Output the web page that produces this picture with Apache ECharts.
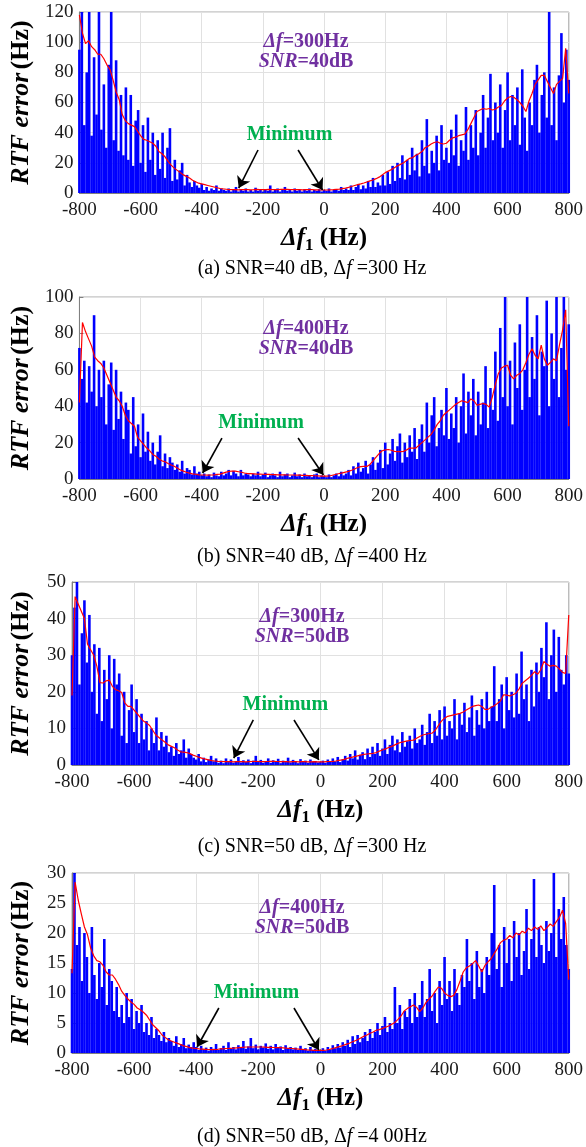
<!DOCTYPE html>
<html>
<head>
<meta charset="utf-8">
<script src="https://cdn.jsdelivr.net/npm/echarts@6/dist/echarts.min.js"></script>
<style>
  html, body { margin: 0; padding: 0; background: #ffffff; }
  #chart { width: 586px; height: 1147px; }
</style>
</head>
<body>
<div id="chart"></div>
<script>
// Frequency grid: bars every 8 Hz, smoothed curve every 10 Hz, both from -800 Hz
const X_START = -800;
const BAR_STEP = 8;
const CURVE_STEP = 10;

// ---- (a) SNR=40 dB, Δf=300 Hz ----
const barsA = [
  95,120,45,80,120,38,90,52,120,42,
  72,30,85,120,35,88,28,65,25,70,
  22,65,18,48,55,20,45,14,50,22,
  40,12,35,16,40,10,30,43,8,22,
  9,15,20,5,12,7,4,8,5,3.5,
  6,2,4,1.5,3,2,5,1.5,3,2,
  1.5,3,1,2,4,1,2.5,1.5,3,1,
  2,1,3.5,1.5,2,1,2.5,1.5,5,1,
  2,3,1,2,4,1.5,2,1,3,1.5,
  2,1,2.5,1.5,3,1,2,1.5,2.5,1,
  2,1.5,3,1,2,2.5,1.5,4,2,3,
  2,5,2,4,6,2.5,5,3,8,4,
  10,4,7,5,12,5,14,6,18,8,
  20,10,25,9,22,12,30,15,26,11,
  35,18,49,13,28,20,38,15,45,22,
  30,20,42,25,52,18,35,28,57,22,
  45,30,55,25,40,65,30,50,79,35,
  60,40,72,30,55,80,35,65,45,70,
  32,82,50,28,60,45,75,85,40,65,
  80,50,120,45,70,35,78,106,60,95,
  75
];
const curveA = [
  118,106,99,101,97,95,92,92,89,85,
  82,75,67,62,52,48,46,45,44,41,
  38,35.5,35,34,33,31,27.5,26,24,21,
  18.5,16.5,15,13.5,12,11,10,8.5,7.5,6.5,
  6,5.5,5,4.5,4,3.5,3,2.7,2.5,2.3,
  2.2,2.2,2.1,2.2,2.3,2.2,2.1,2.2,2.4,2.3,
  2.2,2.3,2.4,2.3,2.2,2.3,2.4,2.5,2.4,2.3,
  2.2,2.3,2.2,2.1,2.2,2.3,2.2,2.1,2.1,2.0,
  2.0,2.0,2.1,2.2,2.4,2.6,2.9,3.2,3.7,4.3,
  5.0,5.5,6.0,6.6,7.3,8.0,8.6,9.5,10.5,12.0,
  13.5,14.5,15.5,16.8,18.0,19.0,20.0,21.5,23.0,23.5,
  25,26,27.5,30,31,32.5,33.5,34,33,32.5,
  33,35,36.5,37,38,38.5,39,42,46,50,
  54,55,56,55.5,56,55,55.5,57,58,61,
  63,64,63.5,62,60,57.5,54,61,66,72,
  75,78,78,74,70,66,72,74,76,96,
  66
];

// ---- (b) SNR=40 dB, Δf=400 Hz ----
const barsB = [
  72,55,65,42,62,48,90,40,60,45,
  65,30,52,64,27,60,33,48,22,42,
  38,14,45,18,30,12,36,15,26,10,
  20,8,15,24,7,14,6,12,9,5,
  8,4,10,3,6,5,2.5,7,3,4,
  2,3,1.5,2.5,1,3.5,2,1.5,4,2,
  3,5,2,4.5,3,1.5,5,2,3,2.5,
  1.5,3,2,4,1.5,2.5,3.5,1,2,3,
  2,1,4,1.5,2.5,3,1,2,3.5,1.5,
  2.5,1,3,1.5,2,1,2.5,3,1,2,
  1.5,1,2.5,1,2,3,1.5,4,2,3,
  5,2,7,3,9,4,6,10,3,8,
  12,5,9,16,6,20,8,14,22,10,
  18,25,9,20,12,24,15,28,11,22,
  30,15,42,20,35,45,18,28,38,24,
  50,22,36,28,45,20,40,58,25,48,
  35,55,24,48,30,42,62,28,50,38,
  70,32,83,45,100,40,65,30,75,50,
  85,38,60,100,45,78,55,90,35,70,
  62,98,40,80,55,100,45,72,100,60,
  85
];
const curveB = [
  42,86,81,77,73,67,65,63.5,61,57,
  53,49,45,43,40,35,32,30.5,29,23,
  21,19,17,15.5,13.5,12.5,11,10,9.5,8.5,
  7.7,7,6,5,4.3,3.7,3.2,2.8,2.6,2.3,
  2.2,2.2,2.1,2.2,2.2,2.5,2.7,3.2,3.8,4.2,
  4.4,4.3,4.0,3.7,3.3,3.0,2.9,2.8,2.7,2.7,
  2.6,2.5,2.5,2.4,2.4,2.3,2.3,2.3,2.2,2.2,
  2.2,2.1,2.1,2.0,2.0,1.9,1.9,1.8,1.7,1.6,
  1.6,1.6,1.8,2.2,2.6,3.0,3.4,3.8,4.2,4.8,
  5.5,6.3,6.8,6.9,6.9,8.0,10,12,14,15.5,
  16,16.2,15.8,15.2,15,15,15.2,16,17,17,
  17,18.5,20,21.5,23,24.5,27,30,32,35,
  36.5,38,39.5,41,42,43,42.5,42,44,43,
  40.5,41,41.5,41,39.5,45,52,58,61,62,
  62.5,57,55,57,58,60,64,68.5,71.5,68,
  66,73.5,66,62.5,64,66,65,74,82,93,
  29
];

// ---- (c) SNR=50 dB, Δf=300 Hz ----
const barsC = [
  30,43,50,22,36,45,28,41,20,33,
  14,32,12,26,18,30,10,29,22,25,
  8,20,6,15,22,9,18,6,14,7,
  12,4,10,6,13,4,9,5,8,3.5,
  5,2.5,6,3,4,7,2,4.5,3,2,
  1.5,3,1,2,0.8,1.5,2.5,1,1.8,0.6,
  1.2,0.5,1.8,0.8,1.5,0.6,1,2.2,0.7,1.3,
  0.8,1.5,0.5,1.2,2.5,0.8,1.4,0.6,1.1,1.8,
  0.6,1.3,0.9,1.7,0.5,1.2,0.8,2,0.7,1.4,
  1,0.5,1.6,0.8,1.2,0.6,1.5,0.9,1.1,0.7,
  0.8,1.2,0.6,1.5,0.9,1.8,1,2.2,0.8,1.6,
  2.5,1.2,3,1.8,4,1.5,2.8,3.5,1.6,4.5,
  2.2,5,3,6,2.5,4.5,7,3,5.5,8,
  4,7,3.5,9,5,6.5,8,4.5,10,6,
  7,11,5.5,9,14,6,12,8,15,7,
  16,8,12,10,18,7,14,11,17,9,
  13,19,8,15,11,18,10,20,12,16,
  27,12,18,22,10,24,15,20,13,25,
  14,31,18,22,12,26,16,28,20,32,
  24,39,18,30,37,20,35,26,22,30,
  25
];
const curveC = [
  19,46,44,42,40,33,31.5,30,27,22.5,
  22.4,23,23.2,21.5,20.6,20.3,19.8,17,16,16,
  15,14,13,12,11.5,10.8,9.5,8.2,7.5,6.8,
  6.2,5.5,5.1,4.7,4.1,3.6,3.5,3.4,3.1,2.7,
  2.4,2.1,1.8,1.6,1.4,1.2,1.1,1.0,0.95,0.9,
  0.9,0.9,0.85,0.9,0.95,0.9,0.85,0.9,0.95,1.0,
  0.95,0.9,0.9,0.95,1.0,1.0,0.95,0.9,0.95,0.9,
  0.85,0.9,0.9,0.85,0.9,0.9,0.85,0.85,0.9,0.85,
  0.85,0.85,0.9,0.95,1.0,1.1,1.25,1.4,1.6,1.9,
  2.1,2.3,2.5,2.7,2.9,3.0,3.1,3.2,3.4,3.8,
  4.1,4.4,4.8,5.1,5.5,5.9,6.2,6.4,6.6,6.7,
  6.8,7.3,7.8,8.2,8.4,8.6,8.7,9.5,10.8,12,
  12.8,13.3,13.5,13.7,13.9,14.1,14.5,15,15.5,16,
  16.2,16.4,16,15.2,15.2,15.8,16.2,16.8,17.5,19.2,
  19.1,18.9,19.2,19.6,20.8,22.3,23,23.7,24.5,25.5,
  24.8,26,28.3,27.5,27,27.2,27,26.2,25.3,25,
  41
];

// ---- (d) SNR=50 dB, Δf=400 Hz ----
const barsD = [
  14,30,18,21,12,20,16,10,21,13,
  9,15,11,19,8,14,12,7,11,6,
  8,5,10,6,9,4,7,5,8,3.5,
  5,3,6,2.5,4,3,2,3.5,1.8,2.5,
  2,1.2,2.8,1,1.5,2.5,0.8,1.4,1,1.8,
  1,0.5,1.2,0.6,0.9,0.4,1,0.7,1.5,0.5,
  0.8,1.2,0.5,1.8,0.7,1,0.6,1.3,0.9,2,
  0.7,1.1,2.5,0.8,1.4,0.6,1.2,0.9,1.6,0.7,
  1.2,0.6,1.5,0.9,1.1,0.5,1.3,0.8,1,0.6,
  0.9,0.5,1.2,0.6,0.8,0.4,1,0.5,0.7,0.4,
  0.5,0.8,0.4,1,0.6,1.3,0.8,1.5,0.9,1.8,
  1.2,2.2,1,2.8,1.5,3,1.8,2.5,3.5,2,
  4,2.5,3.5,5,3,4.5,6,3.5,5,4,
  11,5,8,4,7,6,9,5,10,6,
  8,12,6,9,14,7,10,5,12,8,
  16,9,12,7,14,10,8,13,11,19,
  12,15,9,17,11,14,10,16,13,20,
  28,14,18,11,21,15,19,12,22,16,
  20,13,17,24,14,19,29,16,21,18,
  15,22,17,20,30,16,24,19,26,18,
  14
];
const curveD = [
  13.3,28.5,25.5,23.2,21,19.7,17.5,16.2,15.4,15.2,
  14.6,13.5,13,13,12.3,11.4,10.3,9.6,9.0,8.5,
  8.1,7.5,7.2,6.8,6.3,5.5,4.7,4.2,3.7,3.0,
  2.6,2.2,2.0,1.8,1.6,1.4,1.2,1.05,0.9,0.8,
  0.75,0.7,0.66,0.62,0.58,0.55,0.58,0.62,0.7,0.72,
  0.75,0.78,0.8,0.85,0.9,0.95,1.0,1.0,1.0,1.0,
  1.0,1.0,0.98,0.95,0.95,0.92,0.9,0.88,0.85,0.8,
  0.78,0.75,0.7,0.65,0.6,0.55,0.5,0.48,0.45,0.45,
  0.45,0.45,0.5,0.6,0.75,0.9,1.05,1.2,1.4,1.55,
  1.8,2.0,2.2,2.5,2.8,3.0,3.3,3.5,3.8,3.9,
  4.1,4.3,4.5,4.8,5.1,5.6,6.2,7.0,7.4,7.7,
  8.0,7.6,6.9,7.5,8.4,9.0,9.5,10.3,11.0,10.8,
  10.0,9.6,9.4,9.6,10.6,12.0,13.5,14.2,14.5,14.9,
  15.4,14.5,13.5,14.6,15.2,15.7,16.6,17.4,18.4,18.8,
  19.0,19.6,19.2,20.0,19.7,20.3,20.0,20.8,20.4,21.0,
  20.6,21.2,20.4,20.9,21.5,21.1,21.9,22.6,23.8,21.6,
  12.2
];

// Panel descriptions
const panels = [
  { id: 'a', bars: barsA, curve: curveA, yMax: 120, yStep: 20, df: '300', snr: '40',
    caption: '(a) SNR=40 dB, Δ{i|f} =300 Hz' },
  { id: 'b', bars: barsB, curve: curveB, yMax: 100, yStep: 20, df: '400', snr: '40',
    caption: '(b) SNR=40 dB, Δ{i|f} =400 Hz' },
  { id: 'c', bars: barsC, curve: curveC, yMax: 50, yStep: 10, df: '300', snr: '50',
    caption: '(c) SNR=50 dB, Δ{i|f} =300 Hz' },
  { id: 'd', bars: barsD, curve: curveD, yMax: 30, yStep: 5, df: '400', snr: '50',
    caption: '(d) SNR=50 dB, Δ{i|f} =4 00Hz' }
];

// Layout of each panel (pixels) and annotation anchors (data units)
const layout = [
  { top: 12,  height: 181, captionTop: 254,
    note: [-59, 93.5], minText: [-113, 38.5],
    arrows: [[[-216, 28.5], [-279, 3.3]], [[-85, 28.5], [-5, 2.0]]] },
  { top: 297, height: 182, captionTop: 542,
    note: [-59, 77], minText: [-206, 30.8],
    arrows: [[[-334, 22.5], [-397, 3.3]], [[-85, 22.5], [-2, 2.2]]] },
  { top: 582, height: 183, captionTop: 832,
    note: [-59, 37.7], minText: [-113, 16.4],
    arrows: [[[-216, 12.3], [-279, 1.9]], [[-85, 12.3], [-5, 1.4]]] },
  { top: 873, height: 180, captionTop: 1122,
    note: [-59, 22.5], minText: [-206, 10],
    arrows: [[[-327, 7.5], [-397, 1.0]], [[-85, 7.5], [-5, 0.5]]] }
];

const SERIF = '"Liberation Serif", "Times New Roman", serif';
const PURPLE = '#7030a0';
const GREEN = '#00b050';

const toPairs = (vals, step) => vals.map((v, i) => [X_START + i * step, v]);

const grids = [], xAxes = [], yAxes = [], series = [], titles = [];

panels.forEach((p, k) => {
  const L = layout[k];
  grids.push({ left: 69, right: 16, top: L.top, height: L.height,
    show: true, borderColor: '#a6a6a6', borderWidth: 1, backgroundColor: '#ffffff' });

  xAxes.push({
    gridIndex: k, type: 'value', min: -800, max: 800, interval: 200,
    axisLine: { show: true, onZero: false, lineStyle: { color: '#808080' } },
    axisTick: { show: true, inside: true, length: 4, lineStyle: { color: '#808080' } },
    axisLabel: { color: '#1a1a1a', fontFamily: SERIF, fontSize: 19, margin: 8 },
    splitLine: { show: true, lineStyle: { color: '#e1e1e1', width: 1 } },
    name: '{bi|Δf}{sub|1}{b| (Hz)}',
    nameLocation: 'middle', nameGap: 31,
    nameTextStyle: {
      rich: {
        bi: { fontFamily: SERIF, fontSize: 25, fontWeight: 'bold', fontStyle: 'italic', color: '#000', lineHeight: 30 },
        sub: { fontFamily: SERIF, fontSize: 17, fontWeight: 'bold', color: '#000', verticalAlign: 'bottom', lineHeight: 17 },
        b: { fontFamily: SERIF, fontSize: 25, fontWeight: 'bold', color: '#000', lineHeight: 30 }
      }
    }
  });

  yAxes.push({
    gridIndex: k, type: 'value', min: 0, max: p.yMax, interval: p.yStep,
    axisLine: { show: true, onZero: false, lineStyle: { color: '#808080' } },
    axisTick: { show: true, inside: true, length: 4, lineStyle: { color: '#808080' } },
    axisLabel: { color: '#1a1a1a', fontFamily: SERIF, fontSize: 19, margin: 6 },
    splitLine: { show: true, lineStyle: { color: '#e1e1e1', width: 1 } },
    name: '{bi|RTF error} {b|(Hz)}',
    nameLocation: 'middle', nameGap: 38, nameRotate: 90,
    nameTextStyle: {
      rich: {
        bi: { fontFamily: SERIF, fontSize: 26, fontWeight: 'bold', fontStyle: 'italic', color: '#000' },
        b: { fontFamily: SERIF, fontSize: 26, fontWeight: 'bold', color: '#000' }
      }
    }
  });

  // noisy per-frequency error
  series.push({
    type: 'bar', xAxisIndex: k, yAxisIndex: k,
    data: toPairs(p.bars, BAR_STEP),
    barWidth: 2.6,
    itemStyle: { color: '#0000ff' },
    silent: true, z: 2
  });

  // smoothed error curve with annotations
  series.push({
    type: 'line', xAxisIndex: k, yAxisIndex: k,
    data: toPairs(p.curve, CURVE_STEP),
    symbol: 'none', smooth: false,
    lineStyle: { color: '#ff0000', width: 1.2 },
    silent: true, z: 3,
    markLine: {
      silent: true, animation: false,
      symbol: ['none', 'arrow'], symbolSize: 11,
      lineStyle: { color: '#000000', width: 1.6, type: 'solid' },
      label: { show: false },
      data: L.arrows.map(a => [{ coord: a[0] }, { coord: a[1] }])
    },
    markPoint: {
      silent: true, animation: false,
      symbol: 'rect', symbolSize: 1,
      itemStyle: { color: 'rgba(0,0,0,0)' },
      data: [
        { coord: L.note,
          label: { show: true, position: 'inside', align: 'center', verticalAlign: 'middle',
            formatter: '{bi|Δf}{b|=' + p.df + 'Hz}\n{bi|SNR}{b|=' + p.snr + 'dB}',
            rich: {
              bi: { fontFamily: SERIF, fontSize: 20, fontWeight: 'bold', fontStyle: 'italic', color: PURPLE, lineHeight: 20 },
              b: { fontFamily: SERIF, fontSize: 20, fontWeight: 'bold', color: PURPLE, lineHeight: 20 }
            } } },
        { coord: L.minText,
          label: { show: true, position: 'inside', formatter: 'Minimum',
            fontFamily: SERIF, fontSize: 20, fontWeight: 'bold', color: GREEN } }
      ]
    }
  });

  titles.push({
    text: p.caption, left: 307, top: L.captionTop, textAlign: 'center',
    textStyle: {
      fontFamily: SERIF, fontSize: 20, fontWeight: 'normal', color: '#000',
      rich: { i: { fontFamily: SERIF, fontSize: 20, fontStyle: 'italic', color: '#000' } }
    }
  });
});

const chart = echarts.init(document.getElementById('chart'), null, { renderer: 'canvas' });
chart.setOption({
  backgroundColor: '#ffffff',
  animation: false,
  title: titles,
  grid: grids,
  xAxis: xAxes,
  yAxis: yAxes,
  series: series
});
</script>
</body>
</html>
